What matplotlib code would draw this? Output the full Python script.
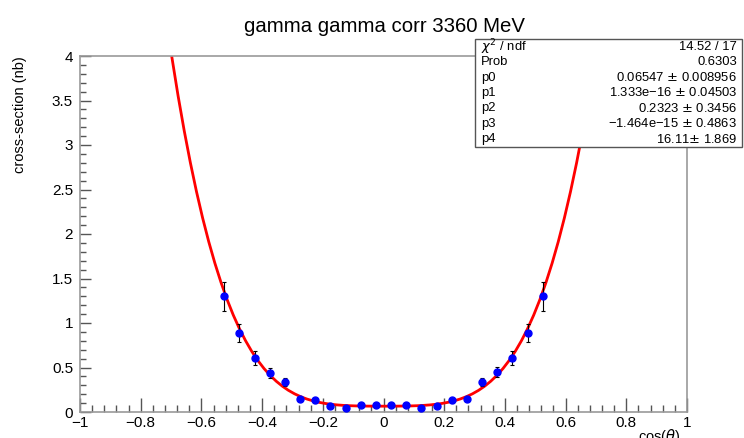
import numpy as np
import matplotlib
matplotlib.use("Agg")
import matplotlib.pyplot as plt
from matplotlib.ticker import MultipleLocator

plt.rcParams['font.family'] = ['Liberation Sans', 'DejaVu Sans']

# measured points (bin centres in cos(theta))
cos_theta = [-0.525, -0.475, -0.425, -0.375, -0.325, -0.275, -0.225, -0.175, -0.125, -0.075, -0.025,
             0.025, 0.075, 0.125, 0.175, 0.225, 0.275, 0.325, 0.375, 0.425, 0.475, 0.525]
xsec = [1.30, 0.89, 0.61, 0.44, 0.34, 0.15, 0.13, 0.065, 0.05, 0.075, 0.08,
        0.08, 0.075, 0.05, 0.065, 0.13, 0.15, 0.34, 0.45, 0.605, 0.89, 1.30]
xsec_err = [0.16, 0.10, 0.08, 0.06, 0.047, 0.02, 0.025, 0.015, 0.012, 0.015, 0.015,
            0.015, 0.015, 0.012, 0.015, 0.025, 0.02, 0.047, 0.06, 0.08, 0.10, 0.16]

# fit parameters from the stats box (pol4: p0 + p1 x + ... + p4 x^4)
fit_pars = [0.06547, 1.333e-16, 0.2323, -1.464e-15, 16.11]

stats_names = [r'$\chi^2$ / ndf', 'Prob', 'p0', 'p1', 'p2', 'p3', 'p4']
stats_values = ['14.52 / 17', '0.6303', '0.06547 $\\pm$ 0.008956', '1.333e\u221216 $\\pm$ 0.04503',
                '0.2323 $\\pm$ 0.3456', '\u22121.464e\u221215 $\\pm$ 0.4863', '16.11$\\pm$ 1.869']

x_ticks = [-1, -0.8, -0.6, -0.4, -0.2, 0, 0.2, 0.4, 0.6, 0.8, 1]
y_ticks = [0, 0.5, 1, 1.5, 2, 2.5, 3, 3.5, 4]

fig = plt.figure(figsize=(7.44, 4.38), dpi=100)
ax = fig.add_axes([80 / 744, 1 - 412 / 438, 607 / 744, 356 / 438])

xf = np.linspace(-1, 1, 100)
yf = np.polyval(fit_pars[::-1], xf)
ax.plot(xf, yf, color='red', lw=2, zorder=2)

ax.errorbar(cos_theta, xsec, yerr=xsec_err, fmt='o', color='blue', ms=5,
            ecolor='black', elinewidth=0.8, capsize=1.5, capthick=0.8, zorder=3)

ax.set_xlim(-1, 1)
ax.set_ylim(0, 4)
ax.xaxis.set_minor_locator(MultipleLocator(0.04))
ax.yaxis.set_minor_locator(MultipleLocator(0.1))
ax.tick_params(which='both', direction='in', color='#555555', top=False, right=False,
               labelsize=11)
ax.tick_params(which='major', length=10, width=1)
ax.tick_params(which='minor', length=5, width=1)
ax.tick_params(axis='y', which='major', length=8)
ax.tick_params(axis='y', which='minor', length=4)

# ROOT-style tick labels
ax.set_xticks(x_ticks)
ax.set_xticklabels([f'{v:g}'.replace('-', '\u2212') for v in x_ticks])
ax.set_yticks(y_ticks)
ax.set_yticklabels([f'{v:g}' for v in y_ticks])
ax.tick_params(axis='x', pad=3)
ax.tick_params(axis='y', pad=5)

for sp in ax.spines.values():
    sp.set_color('#999999')
    sp.set_linewidth(1.2)

fig.text(384 / 744, 1 - 27 / 438, 'gamma gamma corr 3360 MeV', ha='center', va='center', fontsize=14.7)
fig.text(20 / 744, 1 - 56 / 438, 'cross-section (nb)', rotation=90, ha='center', va='top', fontsize=10.5)
fig.text(681 / 744, 1 - 427 / 438, r'cos($\theta$)', ha='right', va='top', fontsize=10.5)

# stats box
bx0, by0, bx1, by1 = 475, 39, 742, 147
box = plt.Rectangle((bx0 / 744, 1 - by1 / 438), (bx1 - bx0) / 744, (by1 - by0) / 438,
                    transform=fig.transFigure, facecolor='white', edgecolor='#555555', lw=1, zorder=5)
fig.add_artist(box)
line_h = (by1 - by0) / len(stats_names)
for i, (name, val) in enumerate(zip(stats_names, stats_values)):
    yy = 1 - (by0 + line_h * (i + 0.5)) / 438
    fig.text(481 / 744, yy, name, ha='left', va='center', fontsize=9.4, zorder=6)
    fig.text(737 / 744, yy, val, ha='right', va='center', fontsize=9.4, zorder=6)

fig.savefig('out.png', dpi=100)
